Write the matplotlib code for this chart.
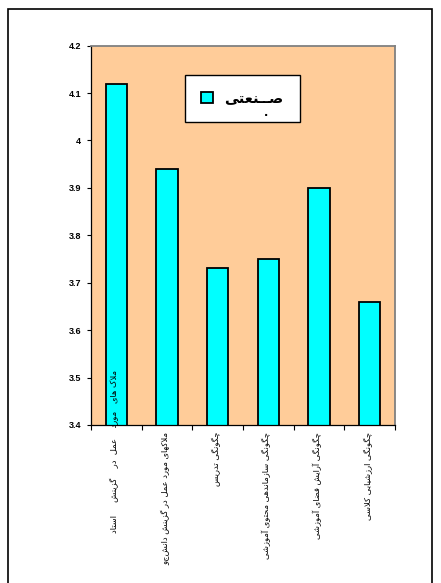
"""
نمودار میله‌ای: میانگین شاخص‌ها (صنعتی) - بازسازی نمودار اکسل.
"""
import matplotlib
matplotlib.use("Agg")
import matplotlib.pyplot as plt
from matplotlib.patches import Rectangle

# --- داده‌ها ---
categories = [
    "ملاک های   مورد    عمل  در    گزینش     استاد",
    "ملاکهای مورد عمل در گزینش دانشجو",
    "چگونگی تدریس",
    "چگونگی سازماندهی محتوی آموزشی",
    "چگونگی آرایش فضای آموزشی",
    "چگونگی ارزشیابی کلاسی",
]
values = [4.12, 3.94, 3.73, 3.75, 3.90, 3.66]
series_name = "صــنعتی"
y_ticks = [3.4, 3.5, 3.6, 3.7, 3.8, 3.9, 4.0, 4.1, 4.2]
y_tick_labels = ["3.4", "3.5", "3.6", "3.7", "3.8", "3.9", "4", "4.1", "4.2"]

# --- شکل‌دهی ساده حروف فارسی (matplotlib خودش اتصال حروف را انجام نمی‌دهد) ---
# ترتیب: منفصل، پایانی، آغازی، میانی
FORMS = {
    "ا": ("\uFE8D", "\uFE8E", None, None),
    "آ": ("\uFE81", "\uFE82", None, None),
    "ب": ("\uFE8F", "\uFE90", "\uFE91", "\uFE92"),
    "پ": ("\uFB56", "\uFB57", "\uFB58", "\uFB59"),
    "ت": ("\uFE95", "\uFE96", "\uFE97", "\uFE98"),
    "ح": ("\uFEA1", "\uFEA2", "\uFEA3", "\uFEA4"),
    "چ": ("\uFB7A", "\uFB7B", "\uFB7C", "\uFB7D"),
    "د": ("\uFEA9", "\uFEAA", None, None),
    "ر": ("\uFEAD", "\uFEAE", None, None),
    "ز": ("\uFEAF", "\uFEB0", None, None),
    "ژ": ("\uFB8A", "\uFB8B", None, None),
    "س": ("\uFEB1", "\uFEB2", "\uFEB3", "\uFEB4"),
    "ش": ("\uFEB5", "\uFEB6", "\uFEB7", "\uFEB8"),
    "ص": ("\uFEB9", "\uFEBA", "\uFEBB", "\uFEBC"),
    "ض": ("\uFEBD", "\uFEBE", "\uFEBF", "\uFEC0"),
    "ع": ("\uFEC9", "\uFECA", "\uFECB", "\uFECC"),
    "ف": ("\uFED1", "\uFED2", "\uFED3", "\uFED4"),
    "ک": ("\uFB8E", "\uFB8F", "\uFB90", "\uFB91"),
    "گ": ("\uFB92", "\uFB93", "\uFB94", "\uFB95"),
    "ل": ("\uFEDD", "\uFEDE", "\uFEDF", "\uFEE0"),
    "م": ("\uFEE1", "\uFEE2", "\uFEE3", "\uFEE4"),
    "ن": ("\uFEE5", "\uFEE6", "\uFEE7", "\uFEE8"),
    "ه": ("\uFEE9", "\uFEEA", "\uFEEB", "\uFEEC"),
    "و": ("\uFEED", "\uFEEE", None, None),
    "ی": ("\uFBFC", "\uFBFD", "\uFBFE", "\uFBFF"),
    "\u0640": ("\u0640", "\u0640", "\u0640", "\u0640"),
}
LAM_ALEF = {"ا": ("\uFEFB", "\uFEFC"), "آ": ("\uFEF5", "\uFEF6")}


def dual(ch):
    return ch in FORMS and FORMS[ch][2] is not None


def shape(text):
    out = []
    i = 0
    n = len(text)
    while i < n:
        ch = text[i]
        prev = text[i - 1] if i > 0 else ""
        joins_prev = dual(prev)
        if ch == "ل" and i + 1 < n and text[i + 1] in LAM_ALEF:
            out.append(LAM_ALEF[text[i + 1]][1 if joins_prev else 0])
            i += 2
            continue
        if ch not in FORMS:
            out.append(ch)
            i += 1
            continue
        nxt = text[i + 1] if i + 1 < n else ""
        joins_next = dual(ch) and nxt in FORMS
        isol, fina, init, medi = FORMS[ch]
        if joins_prev and joins_next:
            out.append(medi)
        elif joins_prev:
            out.append(fina)
        elif joins_next:
            out.append(init)
        else:
            out.append(isol)
        i += 1
    # ترتیب دیداری چپ به راست
    return "".join(reversed(out))


FA_FONT = ["DejaVu Sans"]

fig = plt.figure(figsize=(4.41, 5.83), dpi=100)
W, H = 441, 583
AX_H = 379.4
ax = fig.add_axes([91 / W, 1 - 425 / H, 304 / W, AX_H / H])
ax.set_facecolor("#FFCC99")

x = list(range(len(categories)))
ax.bar(x, values, width=0.42, color="#00FFFF", edgecolor="black",
       linewidth=1.3, label=shape(series_name), zorder=2)

ax.set_xlim(-0.5, len(categories) - 0.5)
ax.set_ylim(3.4, 4.2)
ax.set_yticks(y_ticks)
ax.set_yticklabels(y_tick_labels, fontfamily="Liberation Sans",
                   fontweight="bold", fontsize=6.5)
ax.tick_params(axis="y", direction="out", length=3, width=0.8, pad=4)

# تیک‌ها بین دسته‌ها، برچسب‌ها جداگانه
ax.set_xticks([k - 0.5 for k in range(len(categories) + 1)])
ax.set_xticklabels([])
ax.tick_params(axis="x", direction="out", length=3.5, width=0.8)

# برچسب اول در اکسل بالاتر شروع می‌شود (روی میله)
label_top = [55 / AX_H] + [-7 / AX_H] * (len(categories) - 1)
for xi, cat, yt in zip(x, categories, label_top):
    ax.text(xi - 0.03, yt, shape(cat), transform=ax.get_xaxis_transform(),
            rotation=90, va="top", ha="center", fontsize=6.0,
            fontfamily=FA_FONT, zorder=3)

for side in ("left", "bottom"):
    ax.spines[side].set_color("black")
    ax.spines[side].set_linewidth(0.9)
for side in ("top", "right"):
    ax.spines[side].set_color("#808080")
    ax.spines[side].set_linewidth(1.3)

leg = ax.legend(loc="upper left", bbox_to_anchor=(94 / 304, 1 - 29 / AX_H),
                frameon=True, fancybox=False, edgecolor="black", framealpha=1,
                prop={"family": FA_FONT, "weight": "bold", "size": 10.5},
                handlelength=0.85, handleheight=0.85, handletextpad=0.75,
                borderpad=1.1, borderaxespad=0)
leg.get_frame().set_linewidth(1.0)
leg.get_frame().set_facecolor("white")
leg.set_zorder(5)
ax.text((266 - 91) / 304, (425 - 113) / AX_H, ".", transform=ax.transAxes,
        fontsize=8, ha="center", va="center", fontweight="bold", zorder=6)

# کادر بیرونی نمودار
fig.patches.append(Rectangle((8 / W, -0.01), (432 - 8) / W, 1 - 9 / H + 0.01,
                             transform=fig.transFigure, fill=False,
                             edgecolor="black", linewidth=1.2))

fig.savefig("out.png", dpi=100)
